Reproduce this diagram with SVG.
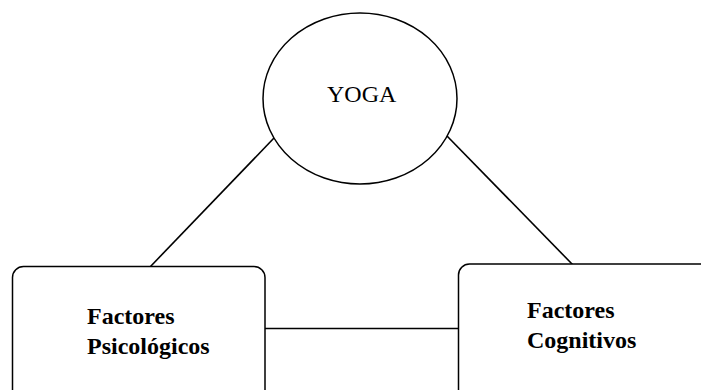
<svg xmlns="http://www.w3.org/2000/svg" width="701" height="390" viewBox="0 0 701 390">
  <style>
    .shape { fill: #ffffff; stroke: #000000; stroke-width: 1.5; }
    .link { stroke: #000000; stroke-width: 1.6; fill: none; }
    text { font-family: 'Liberation Serif', 'Tinos', 'Times New Roman', 'DejaVu Serif', serif; fill: #000000; font-size: 24px; }
    .label { font-weight: bold; }
  </style>
  <rect width="701" height="390" fill="#ffffff"/>
  <g id="connectors">
    <line class="link" x1="150" y1="267" x2="274" y2="138"/>
    <line class="link" x1="447" y1="136" x2="573" y2="265"/>
    <line class="link" x1="265" y1="328.5" x2="458" y2="328.5"/>
  </g>
  <g id="yoga">
    <ellipse class="shape" cx="360" cy="98.5" rx="97" ry="85.5"/>
    <text x="327" y="102">YOGA</text>
  </g>
  <g id="factores-psicologicos">
    <rect class="shape" x="12.5" y="266.5" width="252.5" height="140" rx="11"/>
    <text class="label" x="87" y="324">Factores</text>
    <text class="label" x="87" y="354">Psicológicos</text>
  </g>
  <g id="factores-cognitivos">
    <rect class="shape" x="458.5" y="264" width="260" height="140" rx="11"/>
    <text class="label" x="527" y="318">Factores</text>
    <text class="label" x="527" y="348">Cognitivos</text>
  </g>
</svg>
